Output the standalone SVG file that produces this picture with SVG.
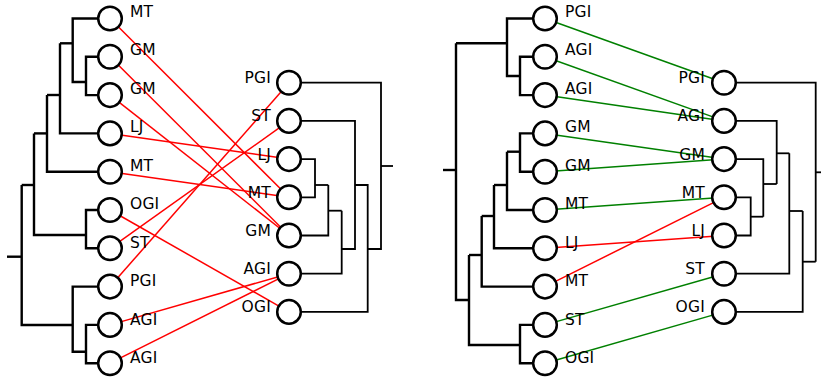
<svg xmlns="http://www.w3.org/2000/svg" width="821" height="379" viewBox="0 0 821 379">
<style>
.bg{fill:#fff}
.tl{fill:none;stroke:#000;stroke-width:2.4}
.tr{fill:none;stroke:#000;stroke-width:1.8}
.red{stroke:#ff0000;stroke-width:1.5;fill:none}
.grn{stroke:#008000;stroke-width:1.5;fill:none}
.leaf circle{fill:#fff;stroke:#000;stroke-width:2.5}
text{font-family:"DejaVu Sans","Verdana",sans-serif;font-size:15.5px;letter-spacing:0.2px;fill:#000}
.L text{text-anchor:start}
.R text{text-anchor:end}
</style>
<rect class="bg" x="0" y="0" width="821" height="379"/>
<g id="connectors">
<g id="tree-edges-left-panel-a" class="tl">
<path d="M98,18.5 H72.7 V82 H86"/>
<path d="M98,56.8 H86 V95.1 H98"/>
<path d="M60,43.3 H72.7"/>
<path d="M60,43.3 V133.4 H98"/>
<path d="M47,95 H60"/>
<path d="M47,95 V171.7 H98"/>
<path d="M34,133.4 H47"/>
<path d="M34,133.4 V235 H86"/>
<path d="M98,210 H86 V248.3 H98"/>
<path d="M21.7,185 H34"/>
<path d="M21.7,185 V325 H72.7"/>
<path d="M7,256.7 H21.7"/>
<path d="M98,286.6 H72.7 V351.7 H86"/>
<path d="M98,324.9 H86 V363.2 H98"/>
</g>
<g id="tree-edges-left-panel-b" class="tr">
<path d="M301,82.7 H381 V249 H367.7"/>
<path d="M381,166 H393"/>
<path d="M301,120.9 H355 V249 H341.7"/>
<path d="M301,159.1 H315 V197.3 H301"/>
<path d="M315,185 H328.3"/>
<path d="M301,235.5 H328.3 V185"/>
<path d="M328.3,210.7 H341.7"/>
<path d="M301,273.7 H341.7 V210.7"/>
<path d="M355,185 H367.7 V311.9 H301"/>
</g>
<g id="tree-edges-right-panel-a" class="tl">
<path d="M533,18.5 H507 V76 H520"/>
<path d="M533,56.8 H520 V95.1 H533"/>
<path d="M456,43.3 H507"/>
<path d="M443,170 H456"/>
<path d="M456,43.3 V300 H469"/>
<path d="M533,133.4 H520 V171.7 H533"/>
<path d="M507,151.7 H520"/>
<path d="M507,151.7 V210 H533"/>
<path d="M494,185 H507"/>
<path d="M494,185 V248.3 H533"/>
<path d="M481.7,216 H494"/>
<path d="M481.7,216 V286.6 H533"/>
<path d="M469,255 H481.7"/>
<path d="M469,255 V345 H520"/>
<path d="M533,324.9 H520 V363.2 H533"/>
</g>
<g id="tree-edges-right-panel-b" class="tr">
<path d="M736,197.3 H750.7 V235.5 H736"/>
<path d="M750.7,216.7 H763.3"/>
<path d="M736,159.1 H763.3 V216.7"/>
<path d="M763.3,184 H776.7"/>
<path d="M736,120.9 H776.7 V184"/>
<path d="M776.7,153.3 H789.3"/>
<path d="M789.3,153.3 V273.7 H736"/>
<path d="M789.3,211 H802.7"/>
<path d="M802.7,211 V311.9 H736"/>
<path d="M802.7,261.7 H815.7"/>
<path d="M736,82.7 H815.7 V261.7"/>
<path d="M815.7,172.3 H821"/>
</g>
<g id="links-left">
<line class="red" x1="110" y1="18.5" x2="289" y2="197.3"/>
<line class="red" x1="110" y1="56.8" x2="289" y2="235.5"/>
<line class="red" x1="110" y1="95.1" x2="289" y2="235.5"/>
<line class="red" x1="110" y1="133.4" x2="289" y2="159.1"/>
<line class="red" x1="110" y1="171.7" x2="289" y2="197.3"/>
<line class="red" x1="110" y1="210" x2="289" y2="311.9"/>
<line class="red" x1="110" y1="248.3" x2="289" y2="120.9"/>
<line class="red" x1="110" y1="286.6" x2="289" y2="82.7"/>
<line class="red" x1="110" y1="324.9" x2="289" y2="273.7"/>
<line class="red" x1="110" y1="363.2" x2="289" y2="273.7"/>
</g>
<g id="links-right">
<line class="grn" x1="545" y1="18.5" x2="724" y2="82.7"/>
<line class="grn" x1="545" y1="56.8" x2="724" y2="120.9"/>
<line class="grn" x1="545" y1="95.1" x2="724" y2="120.9"/>
<line class="grn" x1="545" y1="133.4" x2="724" y2="159.1"/>
<line class="grn" x1="545" y1="171.7" x2="724" y2="159.1"/>
<line class="grn" x1="545" y1="210" x2="724" y2="197.3"/>
<line class="red" x1="545" y1="248.3" x2="724" y2="235.5"/>
<line class="red" x1="545" y1="286.6" x2="724" y2="197.3"/>
<line class="grn" x1="545" y1="324.9" x2="724" y2="273.7"/>
<line class="grn" x1="545" y1="363.2" x2="724" y2="311.9"/>
</g>
</g>
<g class="leaf L">
<g id="a1"><circle cx="110" cy="18.5" r="11.8"/><text x="130" y="16.9">MT</text></g>
<g id="a2"><circle cx="110" cy="56.8" r="11.8"/><text x="130" y="55.4">GM</text></g>
<g id="a3"><circle cx="110" cy="95.1" r="11.8"/><text x="130" y="93.9">GM</text></g>
<g id="a4"><circle cx="110" cy="133.4" r="11.8"/><text x="130" y="132.4">LJ</text></g>
<g id="a5"><circle cx="110" cy="171.7" r="11.8"/><text x="130" y="170.9">MT</text></g>
<g id="a6"><circle cx="110" cy="210" r="11.8"/><text x="130" y="209.4">OGI</text></g>
<g id="a7"><circle cx="110" cy="248.3" r="11.8"/><text x="130" y="247.9">ST</text></g>
<g id="a8"><circle cx="110" cy="286.6" r="11.8"/><text x="130" y="286.4">PGI</text></g>
<g id="a9"><circle cx="110" cy="324.9" r="11.8"/><text x="130" y="324.9">AGI</text></g>
<g id="a10"><circle cx="110" cy="363.2" r="11.8"/><text x="130" y="363.4">AGI</text></g>
</g>
<g class="leaf R">
<g id="b1"><circle cx="289" cy="82.7" r="11.8"/><text x="271" y="83.2">PGI</text></g>
<g id="b2"><circle cx="289" cy="120.9" r="11.8"/><text x="271" y="121.4">ST</text></g>
<g id="b3"><circle cx="289" cy="159.1" r="11.8"/><text x="271" y="159.6">LJ</text></g>
<g id="b4"><circle cx="289" cy="197.3" r="11.8"/><text x="271" y="197.8">MT</text></g>
<g id="b5"><circle cx="289" cy="235.5" r="11.8"/><text x="271" y="236">GM</text></g>
<g id="b6"><circle cx="289" cy="273.7" r="11.8"/><text x="271" y="274.2">AGI</text></g>
<g id="b7"><circle cx="289" cy="311.9" r="11.8"/><text x="271" y="312.4">OGI</text></g>
</g>
<g class="leaf L">
<g id="c1"><circle cx="545" cy="18.5" r="11.8"/><text x="565" y="16.9">PGI</text></g>
<g id="c2"><circle cx="545" cy="56.8" r="11.8"/><text x="565" y="55.4">AGI</text></g>
<g id="c3"><circle cx="545" cy="95.1" r="11.8"/><text x="565" y="93.9">AGI</text></g>
<g id="c4"><circle cx="545" cy="133.4" r="11.8"/><text x="565" y="132.4">GM</text></g>
<g id="c5"><circle cx="545" cy="171.7" r="11.8"/><text x="565" y="170.9">GM</text></g>
<g id="c6"><circle cx="545" cy="210" r="11.8"/><text x="565" y="209.4">MT</text></g>
<g id="c7"><circle cx="545" cy="248.3" r="11.8"/><text x="565" y="247.9">LJ</text></g>
<g id="c8"><circle cx="545" cy="286.6" r="11.8"/><text x="565" y="286.4">MT</text></g>
<g id="c9"><circle cx="545" cy="324.9" r="11.8"/><text x="565" y="324.9">ST</text></g>
<g id="c10"><circle cx="545" cy="363.2" r="11.8"/><text x="565" y="363.4">OGI</text></g>
</g>
<g class="leaf R">
<g id="d1"><circle cx="724" cy="82.7" r="11.8"/><text x="705" y="83.2">PGI</text></g>
<g id="d2"><circle cx="724" cy="120.9" r="11.8"/><text x="705" y="121.4">AGI</text></g>
<g id="d3"><circle cx="724" cy="159.1" r="11.8"/><text x="705" y="159.6">GM</text></g>
<g id="d4"><circle cx="724" cy="197.3" r="11.8"/><text x="705" y="197.8">MT</text></g>
<g id="d5"><circle cx="724" cy="235.5" r="11.8"/><text x="705" y="236">LJ</text></g>
<g id="d6"><circle cx="724" cy="273.7" r="11.8"/><text x="705" y="274.2">ST</text></g>
<g id="d7"><circle cx="724" cy="311.9" r="11.8"/><text x="705" y="312.4">OGI</text></g>
</g>
</svg>
